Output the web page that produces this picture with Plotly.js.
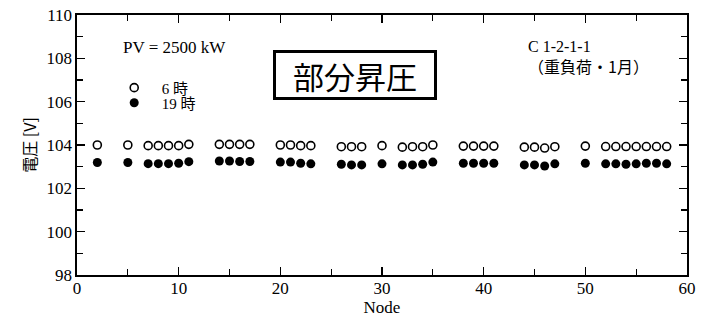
<!DOCTYPE html>
<html>
<head>
<meta charset="utf-8">
<script src="https://cdn.plot.ly/plotly-3.0.1.min.js"></script>
<style>
  html, body { margin: 0; padding: 0; background: #fff; }
  #plot { width: 701px; height: 322px; }
</style>
</head>
<body>
<div id="plot"></div>
<script>
// node numbers along the feeder
var nodes = [2, 5, 7, 8, 9, 10, 11, 14, 15, 16, 17, 20, 21, 22, 23, 26, 27, 28, 30,
             32, 33, 34, 35, 38, 39, 40, 41, 44, 45, 46, 47, 50, 52, 53, 54, 55, 56, 57, 58];

// voltage at 6 o'clock (open circles)
var v6 = [104.00, 104.00, 103.97, 103.97, 103.97, 103.97, 104.03, 104.03, 104.03, 104.03, 104.03,
          104.00, 104.00, 103.97, 103.97, 103.92, 103.92, 103.92, 103.97,
          103.90, 103.92, 103.92, 104.00, 103.95, 103.95, 103.95, 103.95,
          103.90, 103.90, 103.86, 103.92, 103.95, 103.93, 103.93, 103.93, 103.93, 103.93, 103.93, 103.93];

// voltage at 19 o'clock (filled circles)
var v19 = [103.19, 103.19, 103.14, 103.14, 103.14, 103.16, 103.23, 103.26, 103.26, 103.24, 103.24,
           103.21, 103.21, 103.16, 103.13, 103.11, 103.08, 103.08, 103.13,
           103.08, 103.08, 103.11, 103.21, 103.16, 103.16, 103.16, 103.16,
           103.08, 103.08, 103.03, 103.13, 103.16, 103.13, 103.13, 103.11, 103.13, 103.16, 103.16, 103.13];

var serif = 'Liberation Serif, Noto Sans CJK JP, serif';
var gothic = 'Noto Sans CJK JP, sans-serif';

var trace6 = {
  x: nodes, y: v6, type: 'scatter', mode: 'markers', name: '\u00a0\u00a06 時', legend: 'legend',
  marker: { symbol: 'circle-open', size: 8, color: '#000', line: { width: 1.6, color: '#000' } }
};
var trace19 = {
  x: nodes, y: v19, type: 'scatter', mode: 'markers', name: '\u00a0\u00a019 時', legend: 'legend2',
  marker: { symbol: 'circle', size: 9, color: '#000' }
};

var axisCommon = {
  showgrid: false, zeroline: false,
  showline: true, linecolor: '#000', linewidth: 1.6,
  mirror: 'allticks', ticks: 'inside', ticklen: 8, tickwidth: 1.2, tickcolor: '#000',
  tickfont: { family: serif, size: 17, color: '#000' }
};

var legendCommon = {
  xanchor: 'left', yanchor: 'top', bgcolor: 'rgba(0,0,0,0)', borderwidth: 0,
  font: { family: serif, size: 15, color: '#000' }, itemwidth: 30
};

var layout = {
  width: 701, height: 322,
  margin: { l: 77, r: 14, t: 15, b: 47 },
  paper_bgcolor: '#fff', plot_bgcolor: '#fff',
  showlegend: true,
  legend: Object.assign({}, legendCommon, { x: 0.061, y: 0.783 }),
  legend2: Object.assign({}, legendCommon, { x: 0.061, y: 0.725 }),
  xaxis: Object.assign({}, axisCommon, {
    range: [0, 60], dtick: 10, tick0: 0, ticklabelstandoff: -3,
    minor: { dtick: 5, ticks: 'inside', ticklen: 6, tickcolor: '#000', tickwidth: 1.2 },
    title: { text: 'Node', font: { family: serif, size: 17, color: '#000' }, standoff: 0 }
  }),
  yaxis: Object.assign({}, axisCommon, {
    range: [98, 110], dtick: 2, tick0: 98,
    minor: { dtick: 1, ticks: 'inside', ticklen: 6, tickcolor: '#000', tickwidth: 1.2 },
    title: { text: '電圧 [V]', font: { family: gothic, size: 16, color: '#000' }, standoff: 6 }
  }),
  annotations: [
    { xref: 'paper', yref: 'paper', x: 0.072, y: 0.875, xanchor: 'left', yanchor: 'middle',
      text: 'PV = 2500 kW', showarrow: false, font: { family: serif, size: 17, color: '#000' } },
    { xref: 'paper', yref: 'paper', x: 0.455, y: 0.77, xanchor: 'center', yanchor: 'middle',
      text: '部分昇圧', showarrow: false, bordercolor: '#000', borderwidth: 3, borderpad: 0,
      width: 158, height: 44,
      bgcolor: '#fff', font: { family: gothic, size: 31, color: '#000' } },
    { xref: 'paper', yref: 'paper', x: 0.736, y: 0.877, xanchor: 'left', yanchor: 'middle',
      text: 'C 1-2-1-1', showarrow: false, font: { family: serif, size: 16, color: '#000' } },
    { xref: 'paper', yref: 'paper', x: 0.736, y: 0.805, xanchor: 'left', yanchor: 'middle',
      text: '（重負荷・1月）', showarrow: false, font: { family: gothic, size: 16, color: '#000' } }
  ]
};

Plotly.newPlot('plot', [trace6, trace19], layout, { staticPlot: true, displayModeBar: false });
</script>
</body>
</html>
